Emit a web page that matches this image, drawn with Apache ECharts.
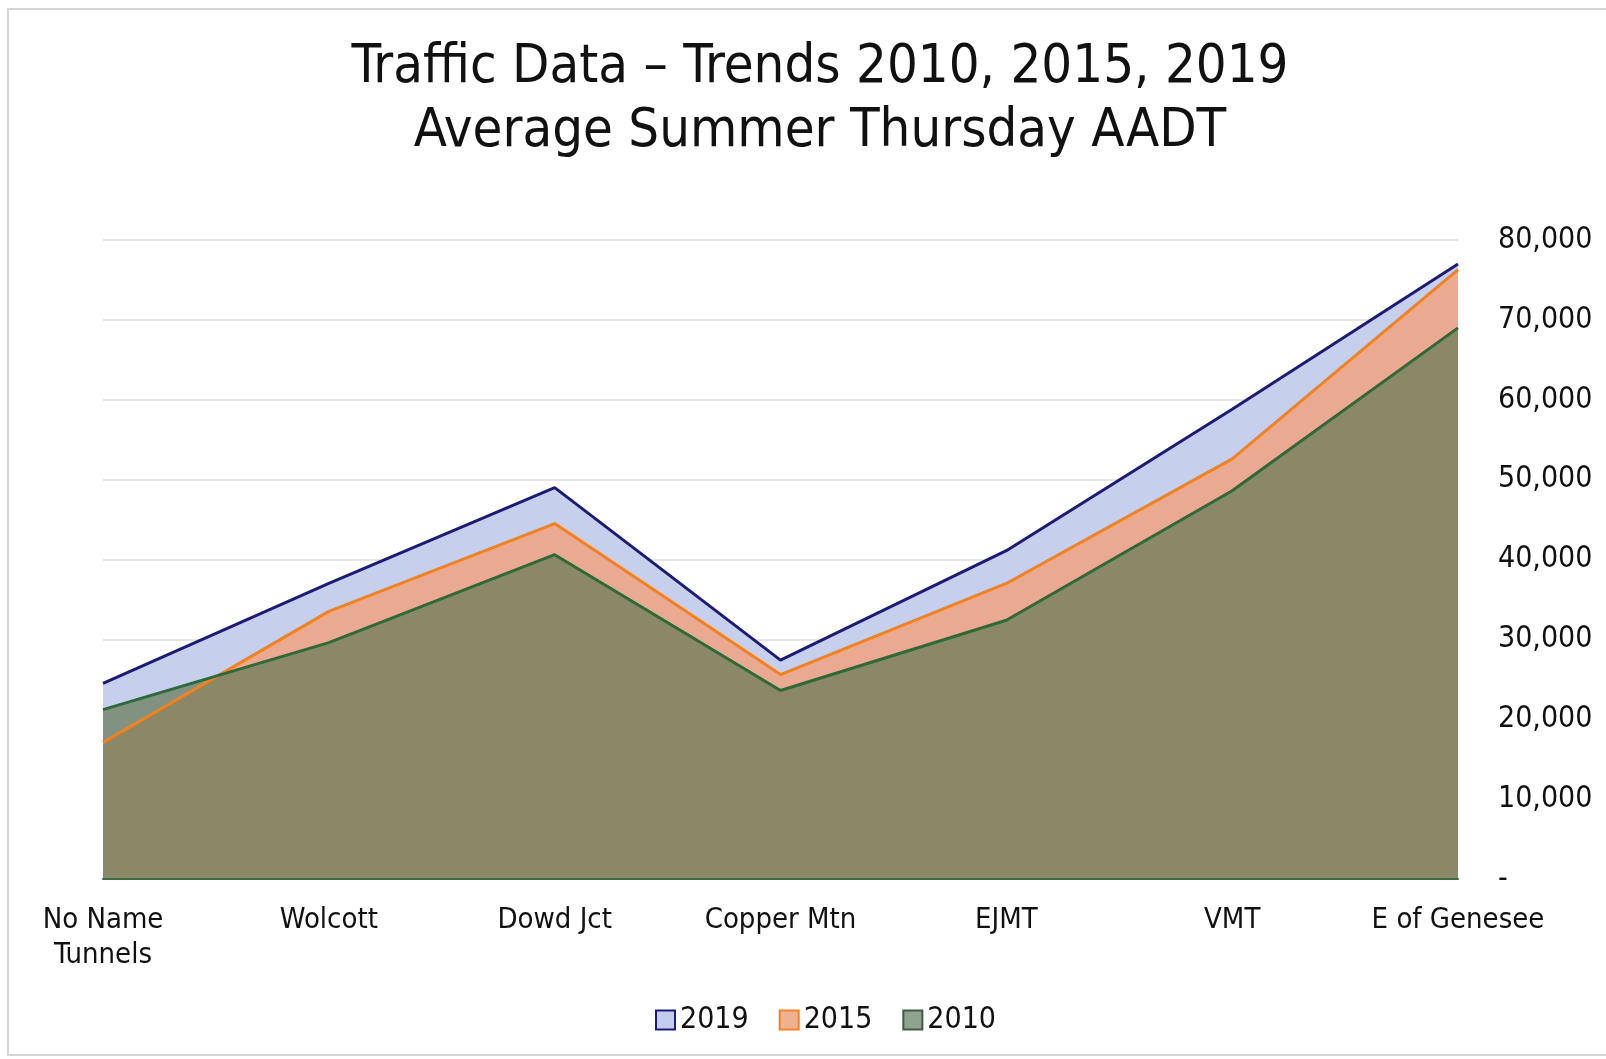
<!DOCTYPE html>
<html>
<head>
<meta charset="utf-8">
<title>Traffic Data</title>
<script src="https://cdn.jsdelivr.net/npm/echarts@6/dist/echarts.min.js"></script>
<style>
  html, body { margin: 0; padding: 0; background: #fff; }
  #myChart { width: 1606px; height: 1059px; }
</style>
</head>
<body>
<div id="myChart"></div>
<script>
// values
var categories = ['No Name\nTunnels', 'Wolcott', 'Dowd Jct', 'Copper Mtn', 'EJMT', 'VMT', 'E of Genesee'];
var y2019 = [24500, 37000, 49000, 27400, 41100, 58800, 77000];
var y2015 = [17100, 33500, 44500, 25600, 37000, 52600, 76300];
var y2010 = [21200, 29600, 40600, 23600, 32400, 48600, 69000];
var yTicks = { min: 0, max: 80000, interval: 10000 };

var font = '"DejaVu Sans Condensed", "DejaVu Sans", sans-serif';

var myChart = echarts.init(document.getElementById('myChart'));
myChart.setOption({
  backgroundColor: '#fff',
  animation: false,
  graphic: [{
    type: 'rect',
    shape: { x: 8, y: 9, width: 1640, height: 1046 },
    style: { fill: 'none', stroke: '#d4d4d4', lineWidth: 2 }
  }],
  title: {
    text: 'Traffic Data – Trends 2010, 2015, 2019\nAverage Summer Thursday AADT',
    left: 815,
    textAlign: 'center',
    top: 31,
    textStyle: {
      color: '#111',
      fontFamily: font,
      fontWeight: 'normal',
      fontSize: 54,
      lineHeight: 64
    }
  },
  legend: {
    data: ['2019', '2015', '2010'],
    bottom: 19,
    left: 650,
    icon: 'rect',
    itemWidth: 19,
    itemHeight: 19,
    itemGap: 30,
    textStyle: { color: '#111', fontSize: 30, fontFamily: font }
  },
  grid: {
    left: 103,
    right: 148,
    top: 240,
    bottom: 180
  },
  xAxis: {
    type: 'category',
    data: categories,
    boundaryGap: false,
    axisLine: { lineStyle: { color: '#3b6b42', width: 2 } },
    axisTick: { show: false },
    axisLabel: {
      color: '#111',
      fontSize: 29,
      fontFamily: font,
      margin: 24,
      lineHeight: 35,
      interval: 0
    },
    z: 10
  },
  yAxis: {
    type: 'value',
    position: 'right',
    min: yTicks.min,
    max: yTicks.max,
    interval: yTicks.interval,
    axisLine: { show: false },
    axisTick: { show: false },
    splitLine: { lineStyle: { color: '#dcdcdc', width: 1.5 } },
    axisLabel: {
      color: '#111',
      fontSize: 30,
      fontFamily: font,
      margin: 40,
      align: 'left',
      formatter: function (v) { return v === 0 ? '-' : v.toLocaleString('en-US'); }
    }
  },
  series: [
    {
      name: '2019',
      type: 'line',
      data: y2019,
      symbol: 'none',
      lineStyle: { color: '#1c1c78', width: 3 },
      itemStyle: { color: '#c4cdee', borderColor: '#1c1c78', borderWidth: 3 },
      areaStyle: { color: '#c6cfec', opacity: 1, origin: 'start' }
    },
    {
      name: '2015',
      type: 'line',
      data: y2015,
      symbol: 'none',
      lineStyle: { color: '#f5801e', width: 3 },
      itemStyle: { color: '#eeb290', borderColor: '#f5801e', borderWidth: 3 },
      areaStyle: { color: 'rgba(244,158,115,0.75)', opacity: 1, origin: 'start' }
    },
    {
      name: '2010',
      type: 'line',
      data: y2010,
      symbol: 'none',
      lineStyle: { color: '#2d6a38', width: 3 },
      itemStyle: { color: '#8ea48f', borderColor: '#3d5a45', borderWidth: 3 },
      areaStyle: { color: 'rgba(106,124,90,0.74)', opacity: 1, origin: 'start' }
    }
  ]
});
</script>
</body>
</html>
